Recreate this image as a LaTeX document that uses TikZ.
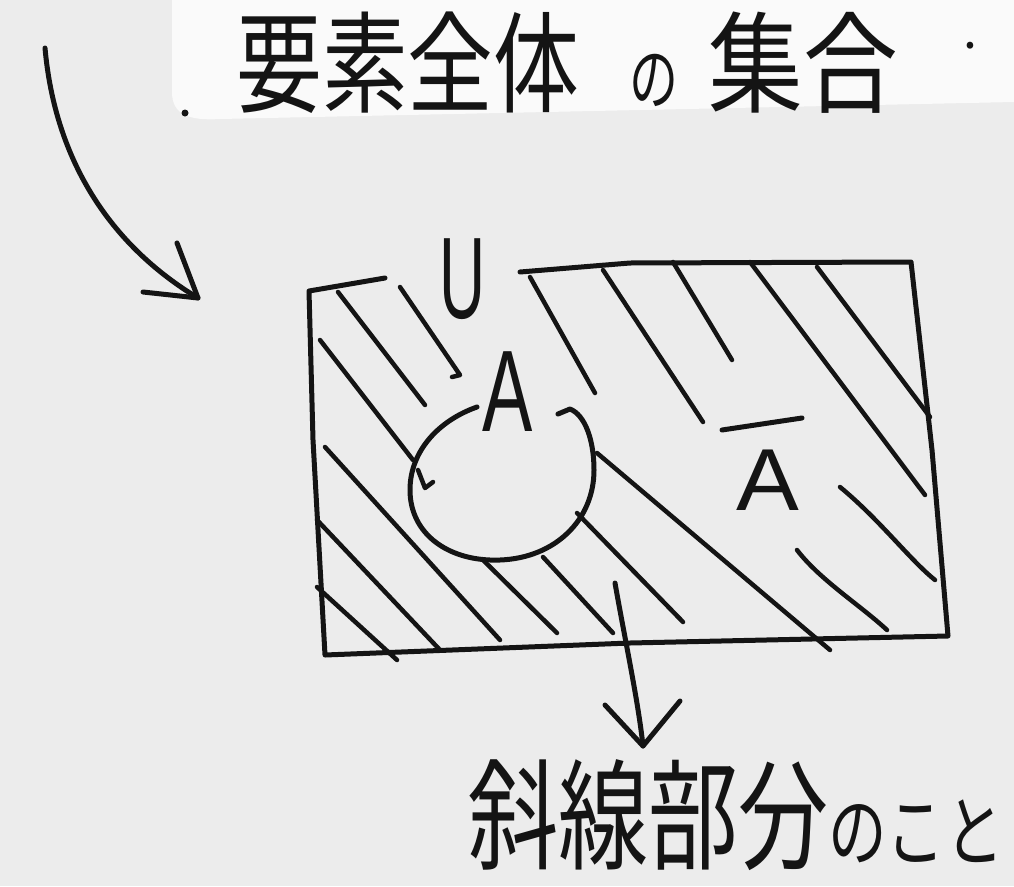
\documentclass[tikz,border=0pt]{standalone}
\usepackage{fontspec}
\usepackage{graphicx}
\newfontfamily\jp{Noto Sans CJK JP}
\newfontfamily\lat{Liberation Sans}
\definecolor{bg}{HTML}{ECECEC}
\definecolor{paper}{HTML}{FAFAFA}
\definecolor{ink}{HTML}{141414}
\begin{document}
\begin{tikzpicture}[x=1pt,y=-1pt,
  pen/.style={line width=5pt,line cap=round,line join=round,draw=ink},
  hatch/.style={pen,line width=4.5pt},
  lbl/.style={inner sep=0pt,anchor=base,text=ink}]
\useasboundingbox (0,0) rectangle (1014,886);
\fill[bg] (0,0) rectangle (1014,886);
\fill[paper] (172,0) -- (172,92) .. controls (172,114) and (188,121) .. (220,119) -- (1014,102) -- (1014,0) -- cycle;

% title text
\node[lbl,anchor=base west,font=\jp] (title) at (236,104)
  {\scalebox{0.78}[1]{\fontsize{110}{110}\selectfont 要素全体}\hspace{50pt}\scalebox{0.7}[1]{\fontsize{70}{70}\selectfont の}\hspace{30pt}\scalebox{0.86}[1]{\fontsize{110}{110}\selectfont 集合}\hspace{66pt}\raisebox{56pt}{\fontsize{50}{50}\selectfont .}};
\fill[ink] (185,113) circle (3.5);

% bottom text
\node[lbl,anchor=base west,font=\jp] (note) at (468,860)
  {\scalebox{0.75}[1]{\fontsize{120}{120}\selectfont 斜線部分}\scalebox{0.75}[1]{\fontsize{78}{78}\selectfont のこと}};

% labels
\node[lbl,font=\lat] (U) at (463,318) {\scalebox{0.55}[1]{\fontsize{116}{116}\selectfont U}};
\node[lbl,font=\lat] (A) at (508,431) {\scalebox{0.65}[1]{\fontsize{116}{116}\selectfont A}};
\node[lbl,font=\lat] (Ac) at (768,510) {\scalebox{1.07}[1]{\fontsize{88}{88}\selectfont A}};
\draw[pen] (722,430) -- (802,418);

% universal set rectangle (with gap for U)
\draw[pen] (385,278) -- (309,291) -- (313,440) -- (325,655) -- (630,643) -- (948,636)
  -- (932,450) -- (911,262) -- (630,263) -- (520,272);

% set A (open circle)
\draw[pen] (477,407) .. controls (440,420) and (410,450) .. (410,490)
  .. controls (410,535) and (450,562) .. (500,560)
  .. controls (555,558) and (594,520) .. (594,470)
  .. controls (594,440) and (585,415) .. (570,409) -- (558,414);
\draw[hatch] (418,470) -- (425,488) -- (433,482);

% hatching
\draw[hatch] (338,292) -- (425,405);
\draw[hatch] (400,287) -- (460,375) -- (452,377);
\draw[hatch] (320,340) -- (413,460);
\draw[hatch] (325,447) -- (500,640);
\draw[hatch] (317,520) -- (440,650);
\draw[hatch] (317,587) -- (397,660);
\draw[hatch] (483,560) -- (557,633);
\draw[hatch] (543,557) -- (613,633);
\draw[hatch] (577,513) -- (683,622);
\draw[hatch] (597,453) -- (830,650);
\draw[hatch] (530,277) -- (595,393);
\draw[hatch] (603,270) -- (703,422);
\draw[hatch] (673,262) -- (732,360);
\draw[hatch] (750,262) -- (925,495);
\draw[hatch] (817,267) -- (930,417);
\draw[hatch] (840,487) .. controls (880,520) and (910,560) .. (935,580);
\draw[hatch] (797,550) .. controls (820,580) and (860,605) .. (887,630);

% arrow to the universal set
\coordinate (a1s) at (45,48);
\coordinate (a1t) at (198,298);
\draw[pen] (a1s) .. controls (55,160) and (110,245) .. (a1t);
\draw[pen] (177,243) -- (a1t) -- (143,292);

% arrow to the note
\coordinate (a2s) at (615,583);
\coordinate (a2t) at (643,746);
\draw[pen] (a2s) .. controls (625,640) and (638,700) .. (a2t);
\draw[pen] (605,705) -- (a2t) -- (680,701);
\end{tikzpicture}
\end{document}
